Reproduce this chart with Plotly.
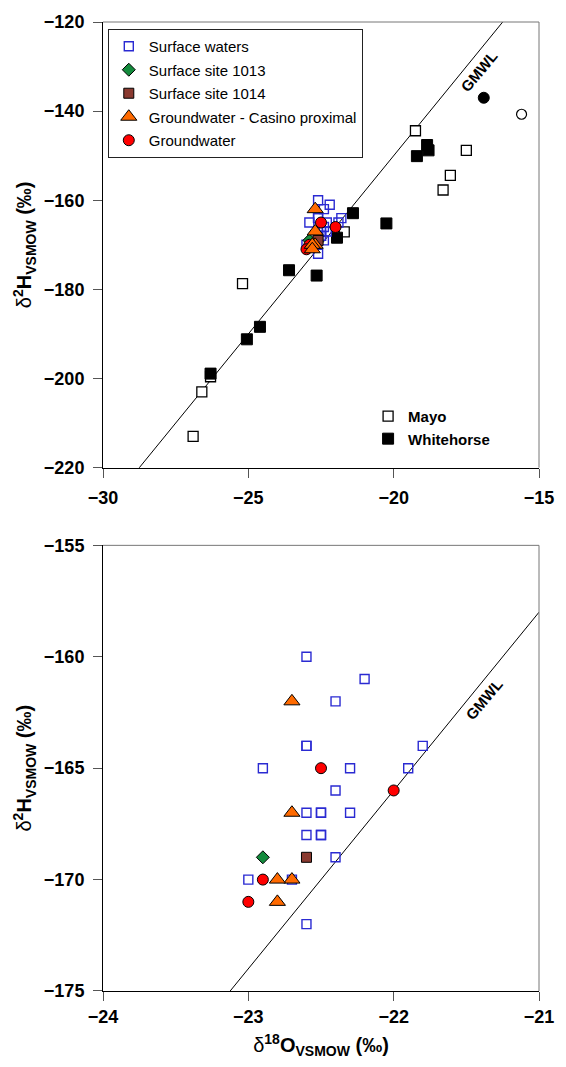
import numpy as np
import plotly.graph_objects as go

# ---- Surface water / groundwater isotope data (delta18O, delta2H, per mil VSMOW)
surf_d18o = [-22.6, -22.2, -22.4, -22.6, -22.6, -21.8, -22.9, -22.3, -21.9, -22.4,
             -22.6, -22.5, -22.5, -22.3, -22.6, -22.5, -22.5, -22.4, -23.0, -22.7, -22.6]
surf_d2h = [-160, -161, -162, -164, -164, -164, -165, -165, -165, -166,
            -167, -167, -167, -167, -168, -168, -168, -169, -170, -170, -172]

site1013_d18o = [-22.9]
site1013_d2h = [-169]

site1014_d18o = [-22.6]
site1014_d2h = [-169]

casino_d18o = [-22.7, -22.7, -22.7, -22.8, -22.8]
casino_d2h = [-162, -167, -170, -170, -171]

gw_d18o = [-22.5, -22.0, -22.9, -23.0]
gw_d2h = [-165, -166, -170, -171]

# ---- Precipitation stations (monthly values and weighted means)
mayo_d18o = [-26.9, -26.6, -26.3, -25.2, -21.7, -19.25, -17.5, -18.05, -18.3]
mayo_d2h = [-213.0, -203.0, -199.6, -178.7, -167.1, -144.4, -148.8, -154.4, -157.7]

white_d18o = [-26.3, -25.05, -24.6, -23.6, -22.65, -21.95, -21.4, -20.25,
              -18.85, -18.8, -19.2]
white_d2h = [-198.9, -191.2, -188.4, -175.7, -176.9, -168.4, -162.9, -165.2,
             -147.6, -148.8, -150.1]

mayo_mean_d18o = [-15.6]
mayo_mean_d2h = [-140.7]
white_mean_d18o = [-16.9]
white_mean_d2h = [-137.0]

# Global Meteoric Water Line: d2H = 8 * d18O + 10
gmwl_slope = 8.0
gmwl_intercept = 10.0

# Axis tick values
top_x_ticks = [-30, -25, -20, -15]
top_y_ticks = [-220, -200, -180, -160, -140, -120]
bot_x_ticks = [-24, -23, -22, -21]
bot_y_ticks = [-175, -170, -165, -160, -155]

FONT = "Liberation Sans, Arial, Helvetica, sans-serif"
BLUE = "#2a2ad2"
ORANGE = "#ff6a00"
RED = "#ff0000"
GREEN = "#138a3c"
BROWN = "#8a3a30"

fig = go.Figure()


def bold_labels(vals):
    return [f"<b>{'−' if v < 0 else ''}{abs(v)}</b>" for v in vals]


def add_gmwl(xa, ya, xmin, xmax):
    gx = np.linspace(xmin, xmax, 50)
    fig.add_trace(go.Scatter(x=gx, y=gmwl_slope * gx + gmwl_intercept, mode="lines",
                             line=dict(color="black", width=1), xaxis=xa, yaxis=ya,
                             showlegend=False, hoverinfo="skip"))


def add_samples(xa, ya, show):
    common = dict(mode="markers", xaxis=xa, yaxis=ya, showlegend=show)
    fig.add_trace(go.Scatter(x=surf_d18o, y=surf_d2h, name="Surface waters",
                             legendgroup="a", legendrank=1,
                             marker=dict(symbol="square-open", size=9, color=BLUE,
                                         line=dict(width=1.4, color=BLUE)), **common))
    fig.add_trace(go.Scatter(x=site1013_d18o, y=site1013_d2h, name="Surface site 1013",
                             legendgroup="b", legendrank=2,
                             marker=dict(symbol="diamond", size=10, color=GREEN,
                                         line=dict(width=1, color="black")), **common))
    fig.add_trace(go.Scatter(x=site1014_d18o, y=site1014_d2h, name="Surface site 1014",
                             legendgroup="c", legendrank=3,
                             marker=dict(symbol="square", size=10, color=BROWN,
                                         line=dict(width=1, color="black")), **common))
    fig.add_trace(go.Scatter(x=gw_d18o, y=gw_d2h, name="Groundwater",
                             legendgroup="e", legendrank=5,
                             marker=dict(symbol="circle", size=11, color=RED,
                                         line=dict(width=1, color="black")), **common))
    fig.add_trace(go.Scatter(x=casino_d18o, y=casino_d2h,
                             name="Groundwater - Casino proximal",
                             legendgroup="d", legendrank=4,
                             marker=dict(symbol="triangle-up", size=14, color=ORANGE,
                                         line=dict(width=1, color="black")), **common))


# ---- Top panel: full range with precipitation stations
add_gmwl("x", "y", -30, -15)
fig.add_trace(go.Scatter(x=mayo_d18o, y=mayo_d2h, name="Mayo", mode="markers",
                         legend="legend2",
                         marker=dict(symbol="square", size=10, color="white",
                                     line=dict(width=1.3, color="black"))))
fig.add_trace(go.Scatter(x=white_d18o, y=white_d2h, name="Whitehorse", mode="markers",
                         legend="legend2",
                         marker=dict(symbol="square", size=11, color="black",
                                     line=dict(width=1, color="black"))))
fig.add_trace(go.Scatter(x=mayo_mean_d18o, y=mayo_mean_d2h, mode="markers",
                         showlegend=False,
                         marker=dict(symbol="circle", size=10, color="white",
                                     line=dict(width=1.2, color="black"))))
fig.add_trace(go.Scatter(x=white_mean_d18o, y=white_mean_d2h, mode="markers",
                         showlegend=False,
                         marker=dict(symbol="circle", size=11, color="black",
                                     line=dict(width=1, color="black"))))
add_samples("x", "y", True)

# ---- Bottom panel: enlarged view of the sample cluster
add_gmwl("x2", "y2", -24, -21)
add_samples("x2", "y2", False)

tickfont = dict(family=FONT, size=18, color="black")
axis_common = dict(showgrid=False, zeroline=False, showline=True, linecolor="black",
                   linewidth=1, ticks="outside", ticklen=9, tickcolor="#555",
                   tickwidth=1, tickfont=tickfont, mirror=False, tickmode="array")

ytitle = "δ<sup><b>2</b></sup><b>H</b><sub><b>VSMOW</b></sub><b> (‰)</b>"
xtitle = "δ<sup><b>18</b></sup><b>O</b><sub><b>VSMOW</b></sub><b> (‰)</b>"
titlefont = dict(family=FONT, size=20, color="black")

fig.update_layout(
    width=566, height=1067,
    margin=dict(l=103, r=16, t=19, b=76),
    paper_bgcolor="white", plot_bgcolor="white",
    font=dict(family=FONT, color="black"),
    xaxis=dict(domain=[0, 1], anchor="y", range=[-30, -15],
               tickvals=top_x_ticks, ticktext=bold_labels(top_x_ticks),
               ticklabelstandoff=5, **axis_common),
    yaxis=dict(domain=[0.5401, 1], anchor="x", range=[-220, -120],
               tickvals=top_y_ticks, ticktext=bold_labels(top_y_ticks),
               ticklabelstandoff=5,
               title=dict(text=ytitle, font=titlefont, standoff=6), **axis_common),
    xaxis2=dict(domain=[0, 1], anchor="y2", range=[-24, -21],
                tickvals=bot_x_ticks, ticktext=bold_labels(bot_x_ticks),
                ticklabelstandoff=0,
                title=dict(text=xtitle, font=titlefont, standoff=12), **axis_common),
    yaxis2=dict(domain=[0, 0.4599], anchor="x2", range=[-175, -155],
                tickvals=bot_y_ticks, ticktext=bold_labels(bot_y_ticks),
                ticklabelstandoff=5,
                title=dict(text=ytitle, font=titlefont, standoff=6), **axis_common),
    legend=dict(x=0.011, y=0.9928, xanchor="left", yanchor="top",
                bgcolor="white", bordercolor="#222", borderwidth=1,
                font=dict(family=FONT, size=15, color="black"),
                traceorder="grouped", tracegroupgap=1),
    legend2=dict(x=0.608, y=0.610, xanchor="left", yanchor="top",
                 bgcolor="rgba(0,0,0,0)", borderwidth=0,
                 font=dict(family=FONT, size=15, color="black", weight="bold"),
                 tracegroupgap=1),
    showlegend=True,
)

# Grey top/right frame lines of each panel
for xa, ya in (("x", "y"), ("x2", "y2")):
    fig.add_shape(type="line", xref=f"{xa} domain", yref=f"{ya} domain",
                  x0=0, x1=1, y0=1, y1=1, line=dict(color="#777", width=1))
    fig.add_shape(type="line", xref=f"{xa} domain", yref=f"{ya} domain",
                  x0=1, x1=1, y0=0, y1=1, line=dict(color="#777", width=1))

# GMWL labels along the line
labfont = dict(family=FONT, size=15, color="black")
fig.add_annotation(x=-17.08, y=-131.0, xref="x", yref="y", text="<b>GMWL</b>",
                   showarrow=False, textangle=-50, font=labfont)
fig.add_annotation(x=-21.38, y=-161.9, xref="x2", yref="y2", text="<b>GMWL</b>",
                   showarrow=False, textangle=-50, font=labfont)

fig.write_html("out.html")
